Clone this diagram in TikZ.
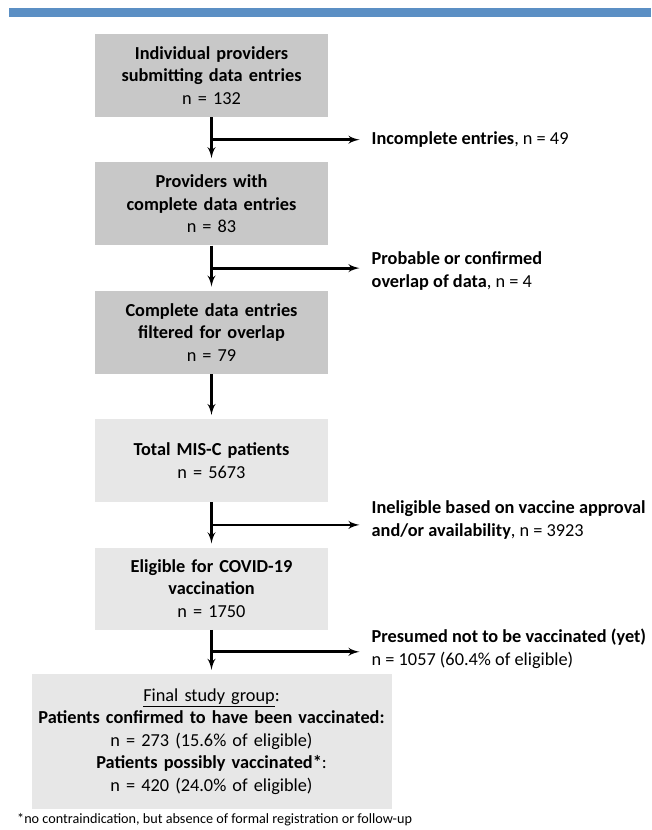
\documentclass[tikz,border=0pt]{standalone}
\usepackage{fontspec}
\setmainfont{Carlito}
\usetikzlibrary{shapes,arrows,positioning,calc}
\definecolor{darkbox}{RGB}{200,200,200}
\definecolor{lightbox}{RGB}{231,231,231}
\definecolor{topbar}{RGB}{91,143,196}

\begin{document}
\begin{tikzpicture}[auto,node distance=45pt,
  line/.style={draw, line width=2.8pt, -latex', shorten >= 4pt},
  stepbox/.style={rectangle, text width=228pt, minimum width=233pt, minimum height=83pt, text centered, inner sep=0pt, font=\fontsize{18.3}{22.5}\selectfont},
  exclude/.style={rectangle, anchor=west, align=left, inner xsep=12pt, inner ysep=0pt, font=\fontsize{18.3}{23}\selectfont}]
\useasboundingbox (0pt,0pt) rectangle (651pt,-830pt);
\fill[topbar] (9pt,-8pt) rectangle (651pt,-17pt);

\node [stepbox, fill=darkbox] (IP) at (211.5pt,-75.5pt) {\textbf{Individual providers}\\ \textbf{submitting data entries}\\ n = 132};
\node [stepbox, fill=darkbox, below=of IP] (PC) {\textbf{Providers with}\\ \textbf{complete data entries}\\ n = 83};
\node [stepbox, fill=darkbox, below=of PC] (CF) {\textbf{Complete data entries}\\ \textbf{filtered for overlap}\\ n = 79};
\node [stepbox, fill=lightbox, below=of CF] (TM) {\textbf{Total MIS-C patients}\\ n = 5673};
\node [stepbox, fill=lightbox, below=of TM, minimum height=82pt] (EV) {\textbf{Eligible for COVID-19}\\ \textbf{vaccination}\\ n = 1750};
\node [stepbox, fill=lightbox, below=44pt of EV, text width=355pt, minimum width=360pt, minimum height=135pt] (FG) {\underline{Final study group}:\\ \textbf{Patients confirmed to have been vaccinated:}\\ n = 273 (15.6\% of eligible)\\ \textbf{Patients possibly vaccinated*}:\\ n = 420 (24.0\% of eligible)};

% split points on the vertical arrows
\coordinate (s1) at ($(IP.south)!0.5!(PC.north)$);
\coordinate (s2) at ($(PC.south)!0.5!(CF.north)$);
\coordinate (s4) at ($(TM.south)!0.5!(EV.north)$);
\coordinate (s5) at ($(EV.south)!0.5!(FG.north)$);

\node [exclude] (IE) at ($(s1)+(148pt,0)$) {\textbf{Incomplete entries}, n = 49};
\node [exclude] (OD) at ($(s2)+(148pt,-3pt)$) {\textbf{Probable or confirmed}\\ \textbf{overlap of data}, n = 4};
\node [exclude] (IN) at ($(s4)+(148pt,5pt)$) {\textbf{Ineligible based on vaccine approval}\\ \textbf{and/or availability}, n = 3923};
\node [exclude] (NV) at ($(s5)+(148pt,3pt)$) {\textbf{Presumed not to be vaccinated (yet)}\\ n = 1057 (60.4\% of eligible)};

\node [anchor=west, inner sep=0pt, font=\fontsize{14.2}{16}\selectfont] (FN) at (17pt,-820pt) {*no contraindication, but absence of formal registration or follow-up};

\begin{scope}[every path/.style=line]
  \path (IP) -- (PC);
  \path (PC) -- (CF);
  \path (CF) -- (TM);
  \path (TM) -- (EV);
  \path (EV) -- (FG);
  \path[shorten >= 0pt] (s1) -- (IE.west |- s1);
  \path[shorten >= 0pt] (s2) -- (OD.west |- s2);
  \path[shorten >= 0pt] (s4) -- (IN.west |- s4);
  \path[shorten >= 0pt] (s5) -- (NV.west |- s5);
\end{scope}
\end{tikzpicture}
\end{document}
